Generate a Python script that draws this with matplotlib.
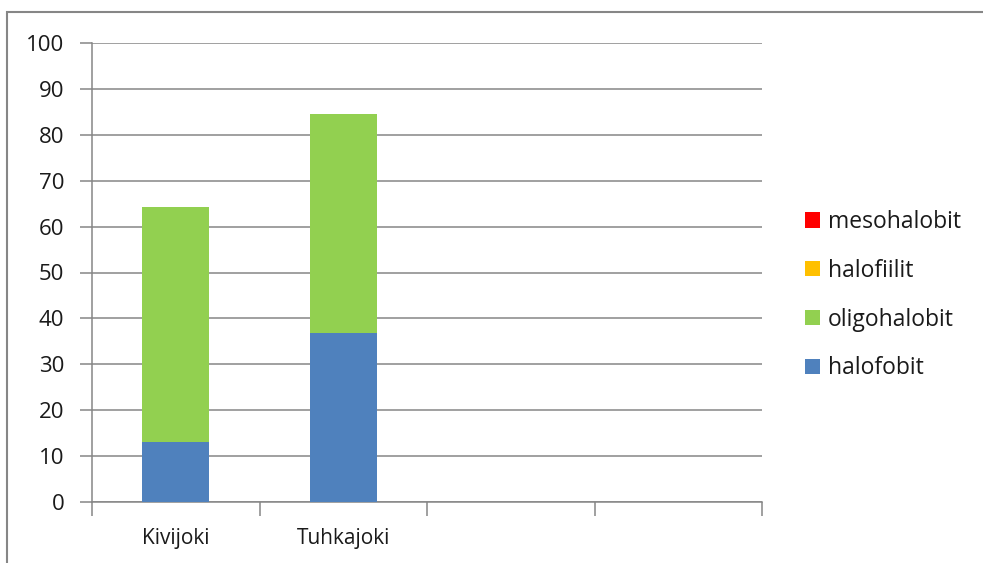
import matplotlib
matplotlib.use("Agg")
import matplotlib.pyplot as plt
from matplotlib.patches import Rectangle
import numpy as np

categories = ["Kivijoki", "Tuhkajoki", "", ""]
halofobit = [13.0, 36.8, 0, 0]
oligohalobit = [51.3, 47.7, 0, 0]
halofiilit = [0, 0, 0, 0]
mesohalobit = [0, 0, 0, 0]
yticks = [0, 10, 20, 30, 40, 50, 60, 70, 80, 90, 100]

series = [("halofobit", halofobit, "#4F81BD"),
          ("oligohalobit", oligohalobit, "#92D050"),
          ("halofiilit", halofiilit, "#FFC000"),
          ("mesohalobit", mesohalobit, "#FF0000")]

plt.rcParams['font.family'] = ['Open Sans', 'DejaVu Sans']

fig = plt.figure(figsize=(9.83, 5.63), dpi=100)
fig.patches.append(Rectangle((7/983, -0.05), 1.2, (563-12)/563 + 0.05, transform=fig.transFigure,
                             fill=False, edgecolor="#868686", linewidth=1.5, zorder=0))
ax = fig.add_axes([92/983, 61/563, 670/983, 459/563])

x = np.arange(len(categories)) + 0.5
bottom = np.zeros(len(categories))
handles = []
for name, vals, col in series:
    vals = np.array(vals, dtype=float)
    h = ax.bar(x, vals, width=0.4, bottom=bottom, color=col, label=name, zorder=3, linewidth=0)
    handles.append(h)
    bottom += vals

ax.set_xlim(0, len(categories))
ax.set_ylim(0, 100)
ax.set_yticks(yticks)
ax.set_yticklabels([str(v) for v in yticks])
ax.yaxis.grid(True, color="#868686", linewidth=1.1, zorder=0)
ax.set_axisbelow(True)

ax.set_xticks(np.arange(len(categories) + 1))
ax.set_xticklabels([])
ax.set_xticks(x, minor=True)
ax.set_xticklabels(categories, minor=True)
ax.tick_params(axis='x', which='major', length=10, width=1.1, color="#868686", direction='out')
ax.tick_params(axis='x', which='minor', length=0, pad=19, labelsize=15, labelcolor="#1a1a1a")
ax.tick_params(axis='y', length=9, width=1.1, color="#868686", pad=11, labelsize=16, labelcolor="#1a1a1a")

for s in ["top", "right"]:
    ax.spines[s].set_visible(False)
for s in ["left", "bottom"]:
    ax.spines[s].set_color("#868686")
    ax.spines[s].set_linewidth(1.1)

leg = fig.legend(handles[::-1], [s[0] for s in series[::-1]], loc="upper left",
                 bbox_to_anchor=(789/983, 1 - 194/563), frameon=False,
                 handlelength=0.65, handleheight=0.65, handletextpad=0.35,
                 labelspacing=1.08, fontsize=16.5, borderpad=0.2)
for t in leg.get_texts():
    t.set_color("#1a1a1a")

fig.savefig("out.png", dpi=100)
